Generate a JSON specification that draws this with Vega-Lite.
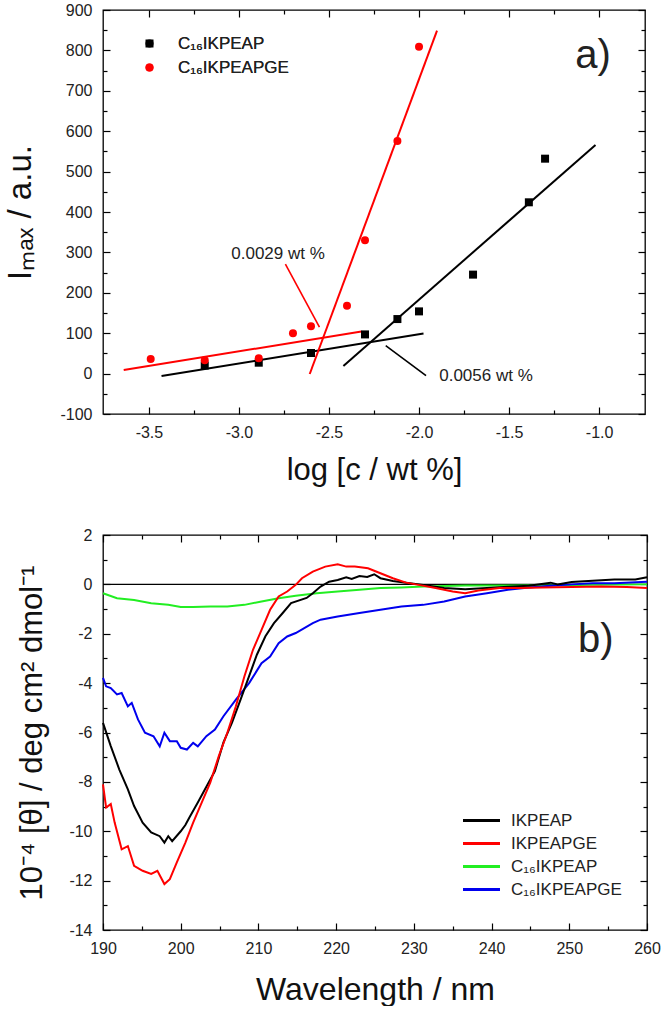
{
  "$schema": "https://vega.github.io/schema/vega-lite/v6.json",
  "background": "white",
  "padding": {"left": 4, "top": 1, "right": 0, "bottom": 0},
  "spacing": 40,
  "resolve": {"scale": {"color": "independent"}},
  "config": {
    "font": "Liberation Sans",
    "view": {"stroke": "#000000", "strokeWidth": 1.3},
    "axis": {
      "grid": false, "domain": false, "zindex": 1,
      "labelFont": "Liberation Sans", "labelFontSize": 16, "labelColor": "#222222",
      "labelFlush": false, "labelOverlap": false,
      "ticks": true, "tickColor": "#000000", "tickOpacity": 1, "tickWidth": 1.2,
      "titleFont": "Liberation Sans", "titleFontWeight": "normal", "titleColor": "#111111"
    }
  },
  "datasets": {
    "pts": [
      {"series": "C₁₆IKPEAP", "logc": -3.19, "imax": 20},
      {"series": "C₁₆IKPEAP", "logc": -2.89, "imax": 27},
      {"series": "C₁₆IKPEAP", "logc": -2.6, "imax": 51},
      {"series": "C₁₆IKPEAP", "logc": -2.3, "imax": 97},
      {"series": "C₁₆IKPEAP", "logc": -2.12, "imax": 135},
      {"series": "C₁₆IKPEAP", "logc": -2.0, "imax": 154},
      {"series": "C₁₆IKPEAP", "logc": -1.7, "imax": 245},
      {"series": "C₁₆IKPEAP", "logc": -1.39, "imax": 424},
      {"series": "C₁₆IKPEAP", "logc": -1.3, "imax": 532},
      {"series": "C₁₆IKPEAPGE", "logc": -3.49, "imax": 36},
      {"series": "C₁₆IKPEAPGE", "logc": -3.19, "imax": 33},
      {"series": "C₁₆IKPEAPGE", "logc": -2.89, "imax": 38},
      {"series": "C₁₆IKPEAPGE", "logc": -2.7, "imax": 100},
      {"series": "C₁₆IKPEAPGE", "logc": -2.6, "imax": 117},
      {"series": "C₁₆IKPEAPGE", "logc": -2.4, "imax": 168},
      {"series": "C₁₆IKPEAPGE", "logc": -2.3, "imax": 330},
      {"series": "C₁₆IKPEAPGE", "logc": -2.12, "imax": 576},
      {"series": "C₁₆IKPEAPGE", "logc": -2.0, "imax": 809}
    ],
    "fits": [
      {"seg": "rl", "series": "C₁₆IKPEAPGE", "logc": -3.64, "imax": 9},
      {"seg": "rl", "series": "C₁₆IKPEAPGE", "logc": -2.32, "imax": 104},
      {"seg": "rs", "series": "C₁₆IKPEAPGE", "logc": -2.607, "imax": -1},
      {"seg": "rs", "series": "C₁₆IKPEAPGE", "logc": -1.9, "imax": 849},
      {"seg": "bl", "series": "C₁₆IKPEAP", "logc": -3.43, "imax": -6},
      {"seg": "bl", "series": "C₁₆IKPEAP", "logc": -1.975, "imax": 99},
      {"seg": "bs", "series": "C₁₆IKPEAP", "logc": -2.42, "imax": 19},
      {"seg": "bs", "series": "C₁₆IKPEAP", "logc": -1.02, "imax": 566}
    ],
    "pointers": [
      {"seg": "p1", "series": "C₁₆IKPEAPGE", "logc": -2.742, "imax": 271},
      {"seg": "p1", "series": "C₁₆IKPEAPGE", "logc": -2.553, "imax": 115},
      {"seg": "p2", "series": "C₁₆IKPEAP", "logc": -2.185, "imax": 69},
      {"seg": "p2", "series": "C₁₆IKPEAP", "logc": -1.961, "imax": -5}
    ],
    "notes": [
      {"logc": -2.783, "imax": 296, "label": "0.0029 wt %"},
      {"logc": -1.628, "imax": -5, "label": "0.0056 wt %"}
    ],
    "cd1": [
      {"sample": "IKPEAP", "wl": 190, "theta": -5.61},
      {"sample": "IKPEAP", "wl": 191, "theta": -6.55},
      {"sample": "IKPEAP", "wl": 192.1, "theta": -7.5},
      {"sample": "IKPEAP", "wl": 193.2, "theta": -8.3},
      {"sample": "IKPEAP", "wl": 194, "theta": -8.98},
      {"sample": "IKPEAP", "wl": 195.1, "theta": -9.65},
      {"sample": "IKPEAP", "wl": 196.2, "theta": -10.05},
      {"sample": "IKPEAP", "wl": 197.3, "theta": -10.2},
      {"sample": "IKPEAP", "wl": 197.9, "theta": -10.46},
      {"sample": "IKPEAP", "wl": 198.4, "theta": -10.2},
      {"sample": "IKPEAP", "wl": 198.9, "theta": -10.4},
      {"sample": "IKPEAP", "wl": 200, "theta": -10.0},
      {"sample": "IKPEAP", "wl": 200.6, "theta": -9.75},
      {"sample": "IKPEAP", "wl": 201.1, "theta": -9.45},
      {"sample": "IKPEAP", "wl": 202.2, "theta": -8.84},
      {"sample": "IKPEAP", "wl": 203.3, "theta": -8.2},
      {"sample": "IKPEAP", "wl": 204.4, "theta": -7.56},
      {"sample": "IKPEAP", "wl": 205.5, "theta": -6.4},
      {"sample": "IKPEAP", "wl": 206.6, "theta": -5.6},
      {"sample": "IKPEAP", "wl": 207.7, "theta": -4.67},
      {"sample": "IKPEAP", "wl": 208.8, "theta": -3.72},
      {"sample": "IKPEAP", "wl": 209.8, "theta": -2.85},
      {"sample": "IKPEAP", "wl": 210.9, "theta": -2.1},
      {"sample": "IKPEAP", "wl": 212, "theta": -1.57},
      {"sample": "IKPEAP", "wl": 213.1, "theta": -1.17},
      {"sample": "IKPEAP", "wl": 214.2, "theta": -0.76},
      {"sample": "IKPEAP", "wl": 216.2, "theta": -0.55},
      {"sample": "IKPEAP", "wl": 217, "theta": -0.36},
      {"sample": "IKPEAP", "wl": 218, "theta": -0.09},
      {"sample": "IKPEAP", "wl": 219.1, "theta": 0.11},
      {"sample": "IKPEAP", "wl": 220.2, "theta": 0.18},
      {"sample": "IKPEAP", "wl": 221.3, "theta": 0.29},
      {"sample": "IKPEAP", "wl": 222, "theta": 0.22},
      {"sample": "IKPEAP", "wl": 223, "theta": 0.34},
      {"sample": "IKPEAP", "wl": 224, "theta": 0.3},
      {"sample": "IKPEAP", "wl": 224.9, "theta": 0.41},
      {"sample": "IKPEAP", "wl": 225.7, "theta": 0.25},
      {"sample": "IKPEAP", "wl": 227.3, "theta": 0.14},
      {"sample": "IKPEAP", "wl": 229, "theta": 0.07},
      {"sample": "IKPEAP", "wl": 231.2, "theta": -0.02},
      {"sample": "IKPEAP", "wl": 233.9, "theta": -0.15},
      {"sample": "IKPEAP", "wl": 236.6, "theta": -0.2},
      {"sample": "IKPEAP", "wl": 239.4, "theta": -0.15},
      {"sample": "IKPEAP", "wl": 242.1, "theta": -0.1},
      {"sample": "IKPEAP", "wl": 244.8, "theta": -0.06},
      {"sample": "IKPEAP", "wl": 247.6, "theta": 0.07},
      {"sample": "IKPEAP", "wl": 248.5, "theta": 0.0},
      {"sample": "IKPEAP", "wl": 250.3, "theta": 0.1},
      {"sample": "IKPEAP", "wl": 253, "theta": 0.15},
      {"sample": "IKPEAP", "wl": 255.8, "theta": 0.2},
      {"sample": "IKPEAP", "wl": 258.5, "theta": 0.2},
      {"sample": "IKPEAP", "wl": 260, "theta": 0.29},
      {"sample": "IKPEAPGE", "wl": 190, "theta": -8.1},
      {"sample": "IKPEAPGE", "wl": 190.4, "theta": -9.04},
      {"sample": "IKPEAPGE", "wl": 191, "theta": -8.9},
      {"sample": "IKPEAPGE", "wl": 191.5, "theta": -9.65},
      {"sample": "IKPEAPGE", "wl": 192.4, "theta": -10.73},
      {"sample": "IKPEAPGE", "wl": 193.2, "theta": -10.6},
      {"sample": "IKPEAPGE", "wl": 194, "theta": -11.4},
      {"sample": "IKPEAPGE", "wl": 195.1, "theta": -11.6},
      {"sample": "IKPEAPGE", "wl": 196.2, "theta": -11.73},
      {"sample": "IKPEAPGE", "wl": 197, "theta": -11.6},
      {"sample": "IKPEAPGE", "wl": 197.9, "theta": -12.14},
      {"sample": "IKPEAPGE", "wl": 198.6, "theta": -11.94},
      {"sample": "IKPEAPGE", "wl": 199.5, "theta": -11.26},
      {"sample": "IKPEAPGE", "wl": 200.6, "theta": -10.46},
      {"sample": "IKPEAPGE", "wl": 201.6, "theta": -9.65},
      {"sample": "IKPEAPGE", "wl": 202.7, "theta": -8.84},
      {"sample": "IKPEAPGE", "wl": 203.8, "theta": -8.03},
      {"sample": "IKPEAPGE", "wl": 204.9, "theta": -6.96},
      {"sample": "IKPEAPGE", "wl": 206, "theta": -6.01},
      {"sample": "IKPEAPGE", "wl": 207.1, "theta": -4.94},
      {"sample": "IKPEAPGE", "wl": 208.2, "theta": -3.72},
      {"sample": "IKPEAPGE", "wl": 209.3, "theta": -2.65},
      {"sample": "IKPEAPGE", "wl": 210.4, "theta": -1.84},
      {"sample": "IKPEAPGE", "wl": 211.5, "theta": -1.03},
      {"sample": "IKPEAPGE", "wl": 212.6, "theta": -0.49},
      {"sample": "IKPEAPGE", "wl": 213.7, "theta": -0.29},
      {"sample": "IKPEAPGE", "wl": 214.8, "theta": -0.02},
      {"sample": "IKPEAPGE", "wl": 215.6, "theta": 0.25},
      {"sample": "IKPEAPGE", "wl": 217, "theta": 0.52},
      {"sample": "IKPEAPGE", "wl": 218.6, "theta": 0.72},
      {"sample": "IKPEAPGE", "wl": 220.2, "theta": 0.81},
      {"sample": "IKPEAPGE", "wl": 221.3, "theta": 0.72},
      {"sample": "IKPEAPGE", "wl": 222.4, "theta": 0.72},
      {"sample": "IKPEAPGE", "wl": 224.1, "theta": 0.65},
      {"sample": "IKPEAPGE", "wl": 225.7, "theta": 0.45},
      {"sample": "IKPEAPGE", "wl": 227.3, "theta": 0.25},
      {"sample": "IKPEAPGE", "wl": 229, "theta": 0.07},
      {"sample": "IKPEAPGE", "wl": 230.6, "theta": -0.02},
      {"sample": "IKPEAPGE", "wl": 232.8, "theta": -0.15},
      {"sample": "IKPEAPGE", "wl": 235, "theta": -0.29},
      {"sample": "IKPEAPGE", "wl": 236.6, "theta": -0.36},
      {"sample": "IKPEAPGE", "wl": 238.3, "theta": -0.25},
      {"sample": "IKPEAPGE", "wl": 241, "theta": -0.15},
      {"sample": "IKPEAPGE", "wl": 243.7, "theta": -0.15},
      {"sample": "IKPEAPGE", "wl": 246.5, "theta": -0.13},
      {"sample": "IKPEAPGE", "wl": 250.3, "theta": -0.11},
      {"sample": "IKPEAPGE", "wl": 254.1, "theta": -0.09},
      {"sample": "IKPEAPGE", "wl": 257.4, "theta": -0.11},
      {"sample": "IKPEAPGE", "wl": 260, "theta": -0.15}
    ],
    "cd2": [
      {"sample": "C₁₆IKPEAP", "wl": 190, "theta": -0.36},
      {"sample": "C₁₆IKPEAP", "wl": 191.8, "theta": -0.56},
      {"sample": "C₁₆IKPEAP", "wl": 194, "theta": -0.63},
      {"sample": "C₁₆IKPEAP", "wl": 196.2, "theta": -0.76},
      {"sample": "C₁₆IKPEAP", "wl": 198.4, "theta": -0.83},
      {"sample": "C₁₆IKPEAP", "wl": 200, "theta": -0.92},
      {"sample": "C₁₆IKPEAP", "wl": 201.6, "theta": -0.92},
      {"sample": "C₁₆IKPEAP", "wl": 203.8, "theta": -0.9},
      {"sample": "C₁₆IKPEAP", "wl": 206, "theta": -0.9},
      {"sample": "C₁₆IKPEAP", "wl": 208.2, "theta": -0.83},
      {"sample": "C₁₆IKPEAP", "wl": 210.4, "theta": -0.69},
      {"sample": "C₁₆IKPEAP", "wl": 212.6, "theta": -0.56},
      {"sample": "C₁₆IKPEAP", "wl": 214.8, "theta": -0.46},
      {"sample": "C₁₆IKPEAP", "wl": 217.5, "theta": -0.36},
      {"sample": "C₁₆IKPEAP", "wl": 220.2, "theta": -0.29},
      {"sample": "C₁₆IKPEAP", "wl": 223, "theta": -0.22},
      {"sample": "C₁₆IKPEAP", "wl": 225.7, "theta": -0.15},
      {"sample": "C₁₆IKPEAP", "wl": 228.4, "theta": -0.13},
      {"sample": "C₁₆IKPEAP", "wl": 231.2, "theta": -0.09},
      {"sample": "C₁₆IKPEAP", "wl": 236.6, "theta": -0.05},
      {"sample": "C₁₆IKPEAP", "wl": 242.1, "theta": -0.05},
      {"sample": "C₁₆IKPEAP", "wl": 247.6, "theta": -0.05},
      {"sample": "C₁₆IKPEAP", "wl": 253, "theta": -0.02},
      {"sample": "C₁₆IKPEAP", "wl": 260, "theta": 0.0},
      {"sample": "C₁₆IKPEAPGE", "wl": 190, "theta": -3.79},
      {"sample": "C₁₆IKPEAPGE", "wl": 190.4, "theta": -4.13},
      {"sample": "C₁₆IKPEAPGE", "wl": 191, "theta": -4.2},
      {"sample": "C₁₆IKPEAPGE", "wl": 191.8, "theta": -4.46},
      {"sample": "C₁₆IKPEAPGE", "wl": 192.4, "theta": -4.4},
      {"sample": "C₁₆IKPEAPGE", "wl": 193.2, "theta": -4.94},
      {"sample": "C₁₆IKPEAPGE", "wl": 193.7, "theta": -4.8},
      {"sample": "C₁₆IKPEAPGE", "wl": 194.5, "theta": -5.47},
      {"sample": "C₁₆IKPEAPGE", "wl": 195.4, "theta": -6.01},
      {"sample": "C₁₆IKPEAPGE", "wl": 196.5, "theta": -6.15},
      {"sample": "C₁₆IKPEAPGE", "wl": 197.3, "theta": -6.56},
      {"sample": "C₁₆IKPEAPGE", "wl": 197.9, "theta": -6.01},
      {"sample": "C₁₆IKPEAPGE", "wl": 198.6, "theta": -6.35},
      {"sample": "C₁₆IKPEAPGE", "wl": 199.5, "theta": -6.35},
      {"sample": "C₁₆IKPEAPGE", "wl": 200, "theta": -6.62},
      {"sample": "C₁₆IKPEAPGE", "wl": 200.8, "theta": -6.69},
      {"sample": "C₁₆IKPEAPGE", "wl": 201.6, "theta": -6.42},
      {"sample": "C₁₆IKPEAPGE", "wl": 202.2, "theta": -6.56},
      {"sample": "C₁₆IKPEAPGE", "wl": 203.3, "theta": -6.15},
      {"sample": "C₁₆IKPEAPGE", "wl": 204.4, "theta": -5.88},
      {"sample": "C₁₆IKPEAPGE", "wl": 205.5, "theta": -5.34},
      {"sample": "C₁₆IKPEAPGE", "wl": 207.1, "theta": -4.67},
      {"sample": "C₁₆IKPEAPGE", "wl": 208.8, "theta": -4.0},
      {"sample": "C₁₆IKPEAPGE", "wl": 210.4, "theta": -3.19},
      {"sample": "C₁₆IKPEAPGE", "wl": 211.5, "theta": -2.92},
      {"sample": "C₁₆IKPEAPGE", "wl": 212.6, "theta": -2.38},
      {"sample": "C₁₆IKPEAPGE", "wl": 213.7, "theta": -2.11},
      {"sample": "C₁₆IKPEAPGE", "wl": 214.8, "theta": -1.97},
      {"sample": "C₁₆IKPEAPGE", "wl": 215.9, "theta": -1.77},
      {"sample": "C₁₆IKPEAPGE", "wl": 217, "theta": -1.57},
      {"sample": "C₁₆IKPEAPGE", "wl": 218, "theta": -1.43},
      {"sample": "C₁₆IKPEAPGE", "wl": 220.2, "theta": -1.3},
      {"sample": "C₁₆IKPEAPGE", "wl": 223, "theta": -1.16},
      {"sample": "C₁₆IKPEAPGE", "wl": 225.7, "theta": -1.03},
      {"sample": "C₁₆IKPEAPGE", "wl": 228.4, "theta": -0.9},
      {"sample": "C₁₆IKPEAPGE", "wl": 231.2, "theta": -0.83},
      {"sample": "C₁₆IKPEAPGE", "wl": 233.9, "theta": -0.69},
      {"sample": "C₁₆IKPEAPGE", "wl": 236.6, "theta": -0.49},
      {"sample": "C₁₆IKPEAPGE", "wl": 239.4, "theta": -0.36},
      {"sample": "C₁₆IKPEAPGE", "wl": 242.1, "theta": -0.22},
      {"sample": "C₁₆IKPEAPGE", "wl": 244.8, "theta": -0.13},
      {"sample": "C₁₆IKPEAPGE", "wl": 247.6, "theta": -0.06},
      {"sample": "C₁₆IKPEAPGE", "wl": 250.3, "theta": 0.0},
      {"sample": "C₁₆IKPEAPGE", "wl": 253, "theta": 0.05},
      {"sample": "C₁₆IKPEAPGE", "wl": 255.8, "theta": 0.05},
      {"sample": "C₁₆IKPEAPGE", "wl": 260, "theta": 0.11}
    ]
  },
  "vconcat": [
    {
      "width": 542,
      "height": 404,
      "resolve": {"axis": {"x": "independent", "y": "independent"}},
      "layer": [
        {
          "data": {"name": "fits"},
          "transform": [{"filter": "datum.series === 'C₁₆IKPEAP'"}],
          "mark": {"type": "line", "strokeWidth": 2, "color": "#000000"},
          "encoding": {
            "x": {"field": "logc", "type": "quantitative", "scale": {"domain": [-3.755, -0.745], "nice": false, "zero": false},
              "axis": {"orient": "top", "title": null, "labels": false, "values": [-3.5, -3, -2.5, -2, -1.5, -1], "tickSize": 7, "offset": -7}},
            "y": {"field": "imax", "type": "quantitative", "scale": {"domain": [-100, 900], "nice": false, "zero": false},
              "axis": {"orient": "right", "title": null, "labels": false, "values": [-100, 0, 100, 200, 300, 400, 500, 600, 700, 800, 900], "tickSize": 7, "offset": -7}},
            "detail": {"field": "seg"}
          }
        },
        {
          "data": {"name": "fits"},
          "transform": [{"filter": "datum.series === 'C₁₆IKPEAPGE'"}],
          "mark": {"type": "line", "strokeWidth": 2, "color": "#ff0000"},
          "encoding": {
            "x": {"field": "logc", "type": "quantitative",
              "axis": {"orient": "top", "title": null, "labels": false, "values": [-3.25, -2.75, -2.25, -1.75, -1.25], "tickSize": 4, "offset": -4}},
            "y": {"field": "imax", "type": "quantitative",
              "axis": {"orient": "right", "title": null, "labels": false, "values": [-50, 50, 150, 250, 350, 450, 550, 650, 750, 850], "tickSize": 4, "offset": -4}},
            "detail": {"field": "seg"}
          }
        },
        {
          "data": {"name": "pointers"},
          "transform": [{"filter": "datum.series === 'C₁₆IKPEAPGE'"}],
          "mark": {"type": "line", "strokeWidth": 1.6, "color": "#ff0000"},
          "encoding": {
            "x": {"field": "logc", "type": "quantitative",
              "axis": {"orient": "bottom", "title": null, "labels": false, "values": [-3.25, -2.75, -2.25, -1.75, -1.25], "tickSize": 4, "offset": -4}},
            "y": {"field": "imax", "type": "quantitative",
              "axis": {"orient": "left", "title": null, "labels": false, "values": [-50, 50, 150, 250, 350, 450, 550, 650, 750, 850], "tickSize": 4, "offset": -4}}
          }
        },
        {
          "data": {"name": "pointers"},
          "transform": [{"filter": "datum.series === 'C₁₆IKPEAP'"}],
          "mark": {"type": "line", "strokeWidth": 1.6, "color": "#000000"},
          "encoding": {
            "x": {"field": "logc", "type": "quantitative", "axis": null},
            "y": {"field": "imax", "type": "quantitative", "axis": null}
          }
        },
        {
          "data": {"name": "pts"},
          "mark": {"type": "point", "filled": true, "size": 64, "opacity": 1},
          "encoding": {
            "x": {"field": "logc", "type": "quantitative",
              "axis": {"orient": "bottom", "title": "log [c / wt %]", "titleFontSize": 31, "titlePadding": 15,
                "values": [-3.5, -3, -2.5, -2, -1.5, -1], "tickSize": 7, "offset": -7, "labelPadding": 10,
                "labelExpr": "replace(format(datum.value, '.1f'), '\u2212', '-')"}},
            "y": {"field": "imax", "type": "quantitative",
              "axis": {"orient": "left", "title": "Iₘₐₓ / a.u.", "titleFontSize": 33, "titlePadding": 22,
                "values": [-100, 0, 100, 200, 300, 400, 500, 600, 700, 800, 900], "tickSize": 7, "offset": -7, "labelPadding": 11,
                "labelExpr": "replace(format(datum.value, 'd'), '\u2212', '-')"}},
            "color": {"field": "series", "type": "nominal", "scale": {"domain": ["C₁₆IKPEAP", "C₁₆IKPEAPGE"], "range": ["#000000", "#ff0000"]},
              "legend": {"orient": "none", "legendX": 38, "legendY": 25, "title": null, "labelFontSize": 17, "labelFont": "Liberation Sans", "labelColor": "#222222", "symbolSize": 64, "rowPadding": 6, "labelOffset": 20,
                "encoding": {"symbols": {"fill": {"value": {"expr": "datum.value === 'C₁₆IKPEAP' ? '#000000' : '#ff0000'"}}, "stroke": {"value": "transparent"}}}}},
            "shape": {"field": "series", "type": "nominal", "scale": {"domain": ["C₁₆IKPEAP", "C₁₆IKPEAPGE"], "range": ["square", "circle"]},
              "legend": {"orient": "none", "legendX": 38, "legendY": 25, "title": null, "labelFontSize": 17, "labelFont": "Liberation Sans", "labelColor": "#222222", "symbolSize": 64, "rowPadding": 6, "labelOffset": 20,
                "encoding": {"symbols": {"fill": {"value": {"expr": "datum.value === 'C₁₆IKPEAP' ? '#000000' : '#ff0000'"}}, "stroke": {"value": "transparent"}}}}}
          }
        },
        {
          "data": {"name": "notes"},
          "mark": {"type": "text", "fontSize": 17, "color": "#222222", "font": "Liberation Sans", "align": "center", "baseline": "middle"},
          "encoding": {
            "x": {"field": "logc", "type": "quantitative", "axis": null},
            "y": {"field": "imax", "type": "quantitative", "axis": null},
            "text": {"field": "label"}
          }
        },
        {
          "data": {"values": [{"logc": -1.033, "imax": 786, "label": "a)"}]},
          "mark": {"type": "text", "fontSize": 40, "color": "#222222", "font": "Liberation Sans", "align": "center", "baseline": "middle"},
          "encoding": {
            "x": {"field": "logc", "type": "quantitative", "axis": null},
            "y": {"field": "imax", "type": "quantitative", "axis": null},
            "text": {"field": "label"}
          }
        }
      ]
    },
    {
      "width": 544,
      "height": 395,
      "resolve": {"axis": {"x": "independent", "y": "independent"}},
      "layer": [
        {
          "data": {"values": [{"wl": 190, "wl2": 260, "theta": 0}]},
          "mark": {"type": "rule", "color": "#000000", "strokeWidth": 1.2},
          "encoding": {
            "x": {"field": "wl", "type": "quantitative", "scale": {"domain": [190, 260], "nice": false, "zero": false},
              "axis": {"orient": "top", "title": null, "labels": false, "values": [190, 200, 210, 220, 230, 240, 250, 260], "tickSize": 7, "offset": -7}},
            "x2": {"field": "wl2"},
            "y": {"field": "theta", "type": "quantitative", "scale": {"domain": [-14, 2], "nice": false, "zero": false},
              "axis": {"orient": "right", "title": null, "labels": false, "values": [-14, -12, -10, -8, -6, -4, -2, 0, 2], "tickSize": 7, "offset": -7}}
          }
        },
        {
          "data": {"name": "cd2"},
          "mark": {"type": "line", "strokeWidth": 2},
          "encoding": {
            "x": {"field": "wl", "type": "quantitative",
              "axis": {"orient": "top", "title": null, "labels": false, "values": [195, 205, 215, 225, 235, 245, 255], "tickSize": 4, "offset": -4}},
            "y": {"field": "theta", "type": "quantitative",
              "axis": {"orient": "right", "title": null, "labels": false, "values": [-13, -11, -9, -7, -5, -3, -1, 1], "tickSize": 4, "offset": -4}},
            "color": {"field": "sample", "type": "nominal",
              "scale": {"domain": ["IKPEAP", "IKPEAPGE", "C₁₆IKPEAP", "C₁₆IKPEAPGE"], "range": ["#000000", "#ff0000", "#22ee22", "#0000ee"]},
              "legend": {"orient": "none", "legendX": 370, "legendY": 277, "title": null, "labelFontSize": 17, "labelFont": "Liberation Sans", "labelColor": "#222222", "symbolType": "M-3,0H3", "symbolSize": 152, "symbolStrokeWidth": 3, "rowPadding": 5, "labelOffset": 21, "padding": 0}}
          }
        },
        {
          "data": {"name": "cd1"},
          "mark": {"type": "line", "strokeWidth": 2},
          "encoding": {
            "x": {"field": "wl", "type": "quantitative",
              "axis": {"orient": "bottom", "title": "Wavelength / nm", "titleFontSize": 32, "titlePadding": 18,
                "values": [190, 200, 210, 220, 230, 240, 250, 260], "tickSize": 7, "offset": -7, "labelPadding": 10, "format": "d"}},
            "y": {"field": "theta", "type": "quantitative",
              "axis": {"orient": "left", "title": "10⁻⁴ [θ] / deg cm² dmol⁻¹", "titleFontSize": 31, "titlePadding": 20,
                "values": [-14, -12, -10, -8, -6, -4, -2, 0, 2], "tickSize": 7, "offset": -7, "labelPadding": 11,
                "labelExpr": "replace(format(datum.value, 'd'), '\u2212', '-')"}},
            "color": {"field": "sample", "type": "nominal",
              "scale": {"domain": ["IKPEAP", "IKPEAPGE", "C₁₆IKPEAP", "C₁₆IKPEAPGE"], "range": ["#000000", "#ff0000", "#22ee22", "#0000ee"]},
              "legend": {"orient": "none", "legendX": 370, "legendY": 277, "title": null, "labelFontSize": 17, "labelFont": "Liberation Sans", "labelColor": "#222222", "symbolType": "M-3,0H3", "symbolSize": 152, "symbolStrokeWidth": 3, "rowPadding": 5, "labelOffset": 21, "padding": 0}}
          }
        },
        {
          "data": {"values": [{"wl": 253.4, "theta": -2.25, "label": "b)"}]},
          "mark": {"type": "text", "fontSize": 40, "color": "#222222", "font": "Liberation Sans", "align": "center", "baseline": "middle"},
          "encoding": {
            "x": {"field": "wl", "type": "quantitative",
              "axis": {"orient": "bottom", "title": null, "labels": false, "values": [195, 205, 215, 225, 235, 245, 255], "tickSize": 4, "offset": -4}},
            "y": {"field": "theta", "type": "quantitative",
              "axis": {"orient": "left", "title": null, "labels": false, "values": [-13, -11, -9, -7, -5, -3, -1, 1], "tickSize": 4, "offset": -4}},
            "text": {"field": "label"}
          }
        }
      ]
    }
  ]
}
